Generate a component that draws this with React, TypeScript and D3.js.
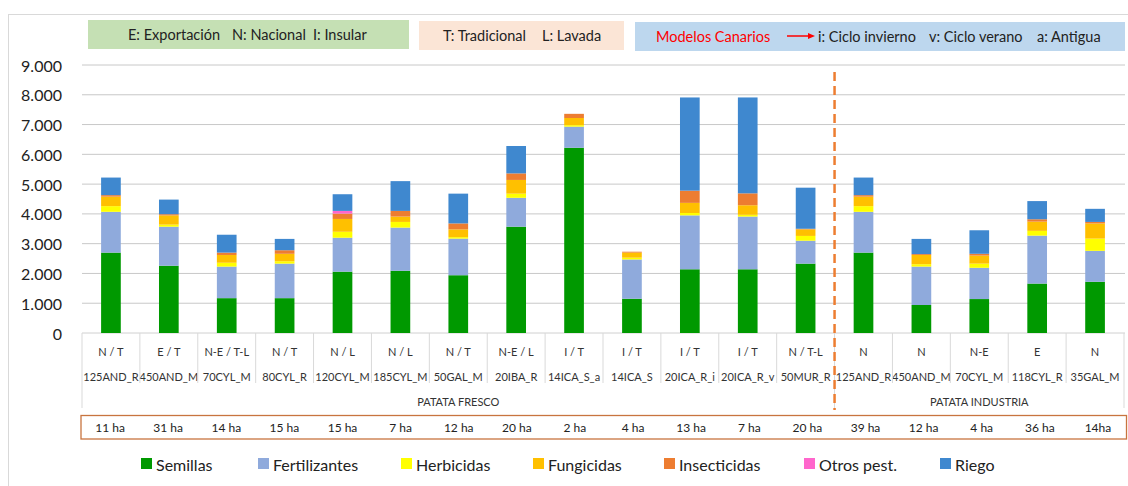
import React from "react";
import * as d3 from "d3";

const row1Labels = ["N / T", "E / T", "N-E / T-L", "N / T", "N / L", "N / L", "N / T", "N-E / L", "I / T", "I / T", "I / T", "I / T", "N / T-L", "N", "N", "N-E", "E", "N"];
const row2Labels = ["125AND_R", "450AND_M", "70CYL_M", "80CYL_R", "120CYL_M", "185CYL_M", "50GAL_M", "20IBA_R", "14ICA_S_a", "14ICA_S", "20ICA_R_i", "20ICA_R_v", "50MUR_R", "125AND_R", "450AND_M", "70CYL_M", "118CYL_R", "35GAL_M"];
const groups = [
  { name: "PATATA FRESCO", start: 0, end: 13 },
  { name: "PATATA INDUSTRIA", start: 13, end: 18 },
];
const haLabels = ["11 ha", "31 ha", "14 ha", "15 ha", "15 ha", "7 ha", "12 ha", "20 ha", "2 ha", "4 ha", "13 ha", "7 ha", "20 ha", "39 ha", "12 ha", "4 ha", "36 ha", "14ha"];

const semillas = [2700, 2260, 1170, 1170, 2060, 2090, 1940, 3570, 6220, 1150, 2140, 2140, 2330, 2700, 940, 1140, 1660, 1720];
const fertilizantes = [1370, 1310, 1060, 1160, 1140, 1450, 1230, 970, 710, 1320, 1810, 1770, 770, 1370, 1290, 1050, 1610, 1040];
const herbicidas = [190, 70, 130, 80, 200, 190, 50, 140, 50, 60, 80, 60, 160, 190, 80, 140, 160, 410];
const fungicidas = [320, 310, 260, 250, 430, 180, 260, 460, 240, 170, 340, 320, 220, 320, 310, 270, 310, 510];
const insecticidas = [50, 40, 80, 120, 180, 190, 200, 220, 140, 30, 410, 400, 20, 50, 30, 60, 80, 50];
const otros = [0, 0, 0, 0, 90, 0, 0, 0, 0, 0, 0, 0, 0, 0, 0, 0, 0, 0];
const riego = [590, 490, 600, 380, 560, 1000, 1000, 920, 0, 0, 3130, 3220, 1380, 590, 510, 790, 610, 440];

const seriesNames = ["Semillas", "Fertilizantes", "Herbicidas", "Fungicidas", "Insecticidas", "Otros pest.", "Riego"];
const seriesValues = [semillas, fertilizantes, herbicidas, fungicidas, insecticidas, otros, riego];
const seriesColors = ["#009900", "#8FAADC", "#FFFF00", "#FFC000", "#ED7D31", "#FF66CC", "#3F88CF"];
const yTicks = [0, 1000, 2000, 3000, 4000, 5000, 6000, 7000, 8000, 9000];

const infoTexts = [
  { t: "E: Exportación", x: 128, y: 34.5, c: "#222" },
  { t: "N: Nacional", x: 232, y: 34.5, c: "#222" },
  { t: "I: Insular", x: 313, y: 34.5, c: "#222" },
  { t: "T: Tradicional", x: 443, y: 35.5, c: "#222" },
  { t: "L: Lavada", x: 542, y: 35.5, c: "#222" },
  { t: "Modelos Canarios", x: 656, y: 36, c: "#FF0000" },
  { t: "i: Ciclo invierno", x: 818, y: 36, c: "#222" },
  { t: "v: Ciclo verano", x: 929, y: 36, c: "#222" },
  { t: "a: Antigua", x: 1037, y: 36, c: "#222" },
];

const FONT = "Lato, 'Open Sans', sans-serif";

export default function App() {
  const W = 1128, H = 486;
  const x0 = 82, x1 = 1124, yBase = 333, yTop = 65;
  const idx = row2Labels.map((_, i) => i);
  const xCat = d3.scaleBand<number>().domain(idx).range([x0, x1]).padding(0);
  const xBar = d3.scaleBand<number>().domain(idx).range([x0, x1]).paddingInner(0.66).paddingOuter(0.33);
  const y = d3.scaleLinear().domain([0, 9000]).range([yBase, yTop]);
  const fmt = (v: number) => (v === 0 ? "0" : d3.format(",")(v).replace(/,/g, "."));

  const table = idx.map((i) => {
    const o: any = { i };
    seriesNames.forEach((n, s) => (o[n] = seriesValues[s][i]));
    return o;
  });
  const stacked = d3.stack<any>().keys(seriesNames)(table);

  const haScale = d3.scaleBand<number>().domain(idx).range([81, 1127]);
  const step = xCat.step();
  const dashX = xCat(13)!;

  const legendX = [141, 258, 401, 533, 664, 804, 940];

  return (
    <svg width={W} height={H} style={{ position: "absolute", left: 0, top: 0, fontFamily: FONT }}>
      <rect x={0} y={0} width={W} height={H} fill="#fff" />
      <line x1={8} x2={W} y1={14.5} y2={14.5} stroke="#d9d9d9" />
      <line x1={8.5} x2={8.5} y1={14} y2={H} stroke="#d9d9d9" />

      {/* top info boxes */}
      <rect x={88} y={20} width={321} height={29} fill="#C5E0B4" />
      <rect x={419} y={21} width={205} height={29} fill="#FBE5D6" />
      <rect x={635} y={22} width={490} height={29} fill="#BDD7EE" />
      <line x1={787} x2={810} y1={36} y2={36} stroke="#FF0000" strokeWidth={1.5} />
      <path d="M808,33 L815,36 L808,39 Z" fill="#FF0000" />
      {infoTexts.map((d) => (
        <text key={d.t} x={d.x} y={d.y} fontSize={14.5} dominantBaseline="central" fill={d.c}>
          {d.t}
        </text>
      ))}

      {/* gridlines & y labels */}
      {yTicks.map((t) => (
        <g key={t}>
          <line x1={x0} x2={x1 + 1} y1={y(t)} y2={y(t)} stroke={t === 0 ? "#d0d0d0" : "#c8c8c8"} strokeWidth={1} />
          <text x={62} y={y(t)} fontSize={16} textAnchor="end" dominantBaseline="central" fill="#222">
            {fmt(t)}
          </text>
        </g>
      ))}

      {/* bars */}
      {stacked.map((layer, s) => (
        <g key={seriesNames[s]} fill={seriesColors[s]}>
          {layer.map((d, i) =>
            d[1] - d[0] > 0 ? (
              <rect key={i} x={xBar(i)} width={xBar.bandwidth()} y={y(d[1])} height={y(d[0]) - y(d[1])} />
            ) : null
          )}
        </g>
      ))}

      {/* category axis */}
      {idx.map((i) => (
        <g key={i}>
          <text x={xCat(i)! + step / 2} y={351} fontSize={11} textAnchor="middle" dominantBaseline="central" fill="#333">
            {row1Labels[i]}
          </text>
          <text x={xCat(i)! + step / 2} y={376} fontSize={11} textAnchor="middle" dominantBaseline="central" fill="#333">
            {row2Labels[i]}
          </text>
        </g>
      ))}
      {idx.slice(1).map((i) => (
        <line key={i} x1={xCat(i)!} x2={xCat(i)!} y1={yBase} y2={383} stroke="#d9d9d9" />
      ))}
      {[x0, dashX, x1].map((xx, k) => (
        <line key={k} x1={xx} x2={xx} y1={yBase} y2={408} stroke="#d9d9d9" />
      ))}
      {groups.map((g) => (
        <text key={g.name} x={(xCat(g.start)! + xCat(g.end - 1)! + step) / 2} y={401} fontSize={11} textAnchor="middle" dominantBaseline="central" fill="#333">
          {g.name}
        </text>
      ))}

      {/* dashed separator */}
      <line x1={dashX} x2={dashX} y1={72} y2={410} stroke="#ED7D31" strokeWidth={2.5} strokeDasharray="9,5" />

      {/* ha box */}
      <rect x={81} y={415.5} width={1045.5} height={23.5} fill="none" stroke="#C8743F" strokeWidth={1.3} />
      {idx.map((i) => (
        <text key={i} x={haScale(i)! + haScale.bandwidth() / 2} y={427.5} fontSize={12} textAnchor="middle" dominantBaseline="central" fill="#222">
          {haLabels[i]}
        </text>
      ))}

      {/* legend */}
      {seriesNames.map((n, s) => (
        <g key={n}>
          <rect x={legendX[s]} y={458} width={11} height={11} fill={seriesColors[s]} />
          <text x={legendX[s] + 15} y={464} fontSize={16} dominantBaseline="central" fill="#222">
            {n}
          </text>
        </g>
      ))}
    </svg>
  );
}
